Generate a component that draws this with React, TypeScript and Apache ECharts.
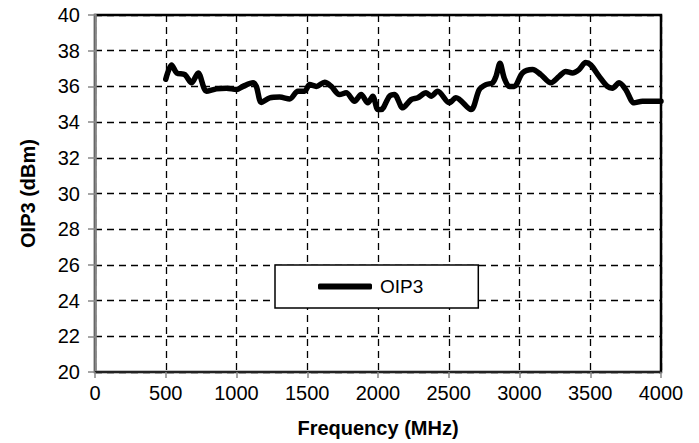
import React, { useEffect, useRef } from "react";
import * as echarts from "echarts";

const freqMHz = [500, 541, 578, 635, 682, 729, 788, 858, 929, 1000, 1046, 1117, 1140, 1176, 1235, 1305, 1376, 1434, 1481, 1517, 1564, 1623, 1670, 1728, 1775, 1834, 1881, 1928, 1963, 1999, 2022, 2081, 2116, 2175, 2234, 2281, 2340, 2375, 2422, 2504, 2551, 2657, 2716, 2763, 2810, 2834, 2862, 2892, 2928, 2963, 3021, 3092, 3151, 3222, 3280, 3327, 3374, 3421, 3468, 3504, 3563, 3621, 3656, 3704, 3751, 3810, 3869, 3975, 4000];
const oip3 = [36.4, 37.2, 36.75, 36.66, 36.2, 36.75, 35.73, 35.86, 35.9, 35.82, 36.0, 36.2, 36.0, 35.1, 35.36, 35.4, 35.3, 35.73, 35.73, 36.1, 36.0, 36.23, 36.0, 35.54, 35.64, 35.17, 35.54, 35.08, 35.45, 34.7, 34.7, 35.45, 35.54, 34.8, 35.26, 35.36, 35.64, 35.45, 35.73, 35.08, 35.36, 34.7, 35.82, 36.1, 36.2, 36.56, 37.3, 36.47, 36.0, 36.0, 36.75, 36.94, 36.66, 36.2, 36.56, 36.84, 36.75, 36.94, 37.34, 37.2, 36.56, 36.0, 35.9, 36.2, 35.82, 35.08, 35.17, 35.17, 35.17];
const seriesName = "OIP3";
const xTitle = "Frequency (MHz)";
const yTitle = "OIP3 (dBm)";

export default function App() {
  const ref = useRef<HTMLDivElement>(null);
  useEffect(() => {
    document.body.style.margin = "0";
    const chart = echarts.init(ref.current!, null, { renderer: "svg" });
    const font = "Liberation Sans, Arial, sans-serif";
    chart.setOption({
      animation: false,
      backgroundColor: "#ffffff",
      textStyle: { fontFamily: font },
      grid: {
        left: 95,
        top: 15,
        right: 38,
        bottom: 69,
        show: true,
        borderColor: "#000",
        borderWidth: 2.5,
      },
      legend: {
        show: true,
        left: 275,
        top: 265,
        orient: "horizontal",
        padding: [12, 55, 12, 43],
        borderColor: "#000",
        borderWidth: 1.5,
        backgroundColor: "#fff",
        icon: "roundRect",
        itemWidth: 54,
        itemHeight: 6,
        itemGap: 8,
        itemStyle: { color: "#000", borderWidth: 0 },
        textStyle: { fontSize: 19, color: "#000", fontFamily: font, padding: [0, 0, 0, 3] },
        data: [seriesName],
      },
      xAxis: {
        type: "value",
        min: 0,
        max: 4000,
        interval: 500,
        name: xTitle,
        nameLocation: "middle",
        nameGap: 46,
        nameTextStyle: { fontSize: 20, fontWeight: "bold", color: "#000", fontFamily: font },
        axisLine: { lineStyle: { color: "#222", width: 2 } },
        axisTick: { show: true, length: 6, lineStyle: { color: "#888", width: 1.5 } },
        axisLabel: { fontSize: 20, color: "#000", margin: 11, fontFamily: font, formatter: (v: number) => String(v) },
        splitLine: { show: true, lineStyle: { color: "#000", type: [7, 5], width: 1.3 } },
      },
      yAxis: {
        type: "value",
        min: 20,
        max: 40,
        interval: 2,
        name: yTitle,
        nameLocation: "middle",
        nameGap: 57,
        nameTextStyle: { fontSize: 20, fontWeight: "bold", color: "#000", fontFamily: font },
        axisLine: { show: true, lineStyle: { color: "#888", width: 2.5 } },
        axisTick: { show: true, length: 7, lineStyle: { color: "#888", width: 1.5 } },
        axisLabel: { fontSize: 20, color: "#000", margin: 15, fontFamily: font },
        splitLine: { show: true, lineStyle: { color: "#000", type: [7, 5], width: 1.3 } },
      },
      series: [
        {
          name: seriesName,
          type: "line",
          data: freqMHz.map((f, i) => [f, oip3[i]]),
          symbol: "none",
          smooth: 0.3,
          lineStyle: { color: "#000", width: 5.5, cap: "round", join: "round" },
          itemStyle: { color: "#000" },
        },
      ],
    });
    return () => chart.dispose();
  }, []);
  return <div ref={ref} style={{ width: 699, height: 443 }} />;
}
